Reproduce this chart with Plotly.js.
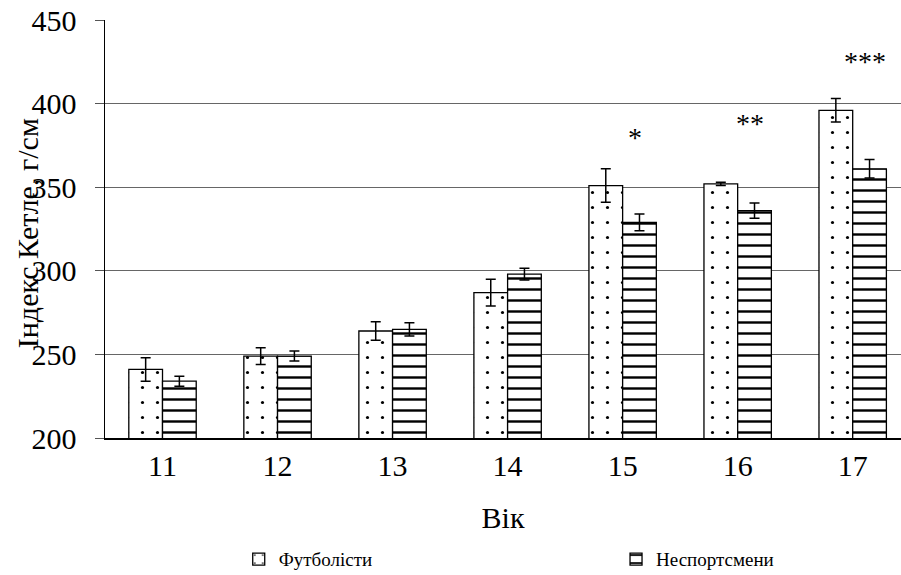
<!DOCTYPE html>
<html>
<head>
<meta charset="utf-8">
<script src="https://cdn.plot.ly/plotly-3.0.1.min.js"></script>
<style>html,body{margin:0;padding:0;background:#fff;overflow:hidden}</style>
</head>
<body>
<div id="chart" style="width:901px;height:575px"></div>
<script>
// Data
const ages = ['11', '12', '13', '14', '15', '16', '17'];
const footballers = [241, 249, 264, 287, 351, 352, 396];
const footballersErr = [7, 5, 5.5, 8, 10, 1, 7];
const nonAthletes = [234, 249, 265, 298, 329, 336, 361];
const nonAthletesErr = [3, 3, 4, 3.5, 5, 4.5, 5.5];
const sigAges = ['15', '16', '17'];
const sigMarks = ['*', '**', '***'];
const sigY = [380, 388, 425];

const FONT = '"Times New Roman", "Liberation Serif", Times, serif';

const traces = [
  {
    type: 'bar', name: 'Футболісти', x: ages, y: footballers, legend: 'legend',
    error_y: {type: 'data', array: footballersErr, visible: true, color: '#000', thickness: 1.5, width: 5},
    marker: {color: '#ffffff', line: {color: '#000', width: 1.3},
      pattern: {shape: '.', fgcolor: '#000', bgcolor: '#ffffff', size: 15, solidity: 0.035, fillmode: 'replace'}}
  },
  {
    type: 'bar', name: 'Неспортсмени', x: ages, y: nonAthletes, legend: 'legend2',
    error_y: {type: 'data', array: nonAthletesErr, visible: true, color: '#000', thickness: 1.5, width: 5},
    marker: {color: '#ffffff', line: {color: '#000', width: 1.3},
      pattern: {shape: '-', fgcolor: '#000', bgcolor: '#ffffff', size: 11, solidity: 0.22, fillmode: 'replace'}}
  }
];

const annotations = sigAges.map((a, i) => ({
  x: ages.indexOf(a), y: sigY[i], xref: 'x', yref: 'y', text: sigMarks[i], showarrow: false,
  xshift: 12, font: {family: FONT, size: 28, color: '#000'}, xanchor: 'center', yanchor: 'middle'
}));
annotations.push({
  text: 'Індекс Кетле, г/см', xref: 'paper', yref: 'paper', x: -0.098, y: 0.49,
  textangle: -90, showarrow: false, xanchor: 'center', yanchor: 'middle',
  font: {family: FONT, size: 30, color: '#000'}
});

const legendBase = {
  orientation: 'h', xanchor: 'left', yanchor: 'middle', y: -0.29,
  font: {family: FONT, size: 19, color: '#000'}, bgcolor: 'rgba(0,0,0,0)',
  itemwidth: 30
};

const layout = {
  width: 901, height: 575,
  margin: {l: 105, r: 0, t: 20, b: 137, autoexpand: false},
  paper_bgcolor: '#fff', plot_bgcolor: '#fff',
  barmode: 'group', bargap: 0.414, bargroupgap: 0,
  font: {family: FONT, color: '#000'},
  xaxis: {
    type: 'category', range: [-0.5, 6.42], showgrid: false, showline: true,
    linecolor: '#000', linewidth: 1.5, ticks: '', zeroline: false,
    tickfont: {family: FONT, size: 30, color: '#000'}, ticklabelstandoff: 0,
    title: {text: 'Вік', font: {family: FONT, size: 30, color: '#000'}, standoff: 26}
  },
  yaxis: {
    range: [200, 450], dtick: 50, showgrid: true, gridcolor: '#666', gridwidth: 1,
    showline: true, linecolor: '#000', linewidth: 1.5, ticks: 'outside', ticklen: 9,
    tickcolor: '#555', tickwidth: 1, zeroline: false,
    tickfont: {family: FONT, size: 30, color: '#000'}, ticklabelstandoff: 12
  },
  showlegend: true,
  legend: Object.assign({}, legendBase, {x: 0.168}),
  legend2: Object.assign({}, legendBase, {x: 0.642}),
  annotations: annotations
};

Plotly.newPlot('chart', traces, layout, {displayModeBar: false, staticPlot: true});
</script>
</body>
</html>
